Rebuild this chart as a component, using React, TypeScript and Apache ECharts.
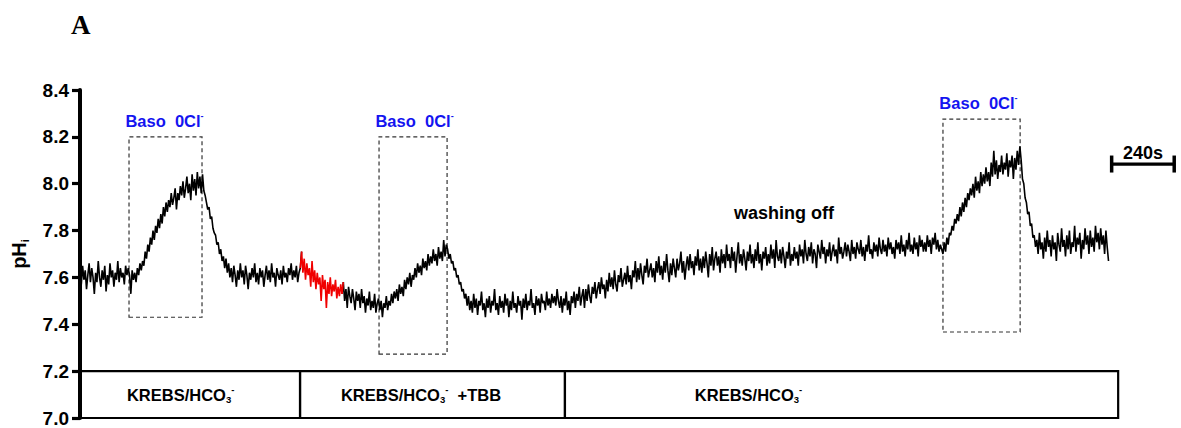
import React, { useEffect, useRef } from 'react';
import * as echarts from 'echarts';

const DT = 5;
const krebsBaseline = [
  7.62, 7.57, 7.65, 7.59, 7.63, 7.55, 7.61, 7.66, 7.58, 7.64,
  7.60, 7.53, 7.62, 7.58, 7.67, 7.60, 7.56, 7.63, 7.59, 7.65,
  7.54, 7.61, 7.57, 7.66, 7.60, 7.63, 7.56, 7.62, 7.59, 7.67,
  7.58, 7.64, 7.60, 7.62, 7.57, 7.65, 7.61, 7.64];
const baso1 = [
  7.61, 7.53, 7.63, 7.59, 7.62, 7.58, 7.64, 7.61, 7.66, 7.63,
  7.67, 7.65, 7.71, 7.68, 7.74, 7.71, 7.77, 7.74, 7.80, 7.76,
  7.82, 7.79, 7.85, 7.81, 7.87, 7.83, 7.90, 7.86, 7.92, 7.88,
  7.93, 7.90, 7.96, 7.91, 7.94, 7.98, 7.89, 7.96, 7.93, 7.99,
  7.95, 8.01, 7.94, 7.98, 8.03, 7.96, 8.00, 7.93, 8.04, 7.97,
  8.02, 7.95, 8.05, 7.98, 8.03, 7.96];
const recovery1 = [
  8.04, 7.97, 7.95, 7.92, 7.89, 7.90, 7.85, 7.86, 7.81, 7.79,
  7.78, 7.74, 7.75, 7.70, 7.72, 7.67, 7.69, 7.64, 7.68, 7.62,
  7.66, 7.60, 7.64, 7.58, 7.65, 7.61, 7.56, 7.63, 7.59, 7.66,
  7.60, 7.63, 7.57, 7.65, 7.61, 7.55, 7.62, 7.59, 7.64, 7.60,
  7.66, 7.58, 7.62, 7.57, 7.64, 7.60, 7.63, 7.56, 7.61, 7.65,
  7.59, 7.63, 7.58, 7.66, 7.60, 7.62, 7.56, 7.64, 7.61, 7.59,
  7.63, 7.57, 7.65, 7.60, 7.62, 7.58, 7.64, 7.61, 7.66, 7.59,
  7.63, 7.60, 7.65, 7.58, 7.62, 7.64];
const tbbRed = [
  7.71, 7.62, 7.68, 7.59, 7.66, 7.61, 7.64, 7.56, 7.67, 7.58,
  7.63, 7.55, 7.62, 7.57, 7.60, 7.50, 7.61, 7.55, 7.59, 7.47,
  7.58, 7.53, 7.60, 7.52, 7.57, 7.54, 7.59, 7.51, 7.56, 7.52,
  7.57, 7.53];
const tbbBaseline = [
  7.58, 7.50, 7.55, 7.47, 7.56, 7.52, 7.49, 7.55, 7.51, 7.46,
  7.54, 7.50, 7.53, 7.47, 7.55, 7.49, 7.52, 7.45, 7.51, 7.48,
  7.54, 7.46, 7.50, 7.47, 7.53, 7.45, 7.49, 7.51];
const baso2 = [
  7.46, 7.50, 7.43, 7.49, 7.47, 7.52, 7.46, 7.50, 7.48, 7.53,
  7.49, 7.54, 7.51, 7.55, 7.50, 7.57, 7.53, 7.56, 7.52, 7.59,
  7.55, 7.60, 7.57, 7.62, 7.56, 7.61, 7.59, 7.64, 7.60, 7.66,
  7.62, 7.65, 7.61, 7.68, 7.64, 7.67, 7.63, 7.70, 7.65, 7.69,
  7.66, 7.72, 7.67, 7.70, 7.65, 7.73, 7.68, 7.71, 7.67, 7.76,
  7.69, 7.74];
const recovery2 = [
  7.72, 7.68, 7.70, 7.66, 7.67, 7.63, 7.64, 7.60, 7.61, 7.57,
  7.58, 7.54, 7.55, 7.51, 7.53, 7.48, 7.52, 7.46, 7.50, 7.45,
  7.53, 7.47, 7.51, 7.44, 7.50, 7.48, 7.54, 7.46, 7.49, 7.43,
  7.51, 7.47, 7.52, 7.45, 7.50, 7.48, 7.55, 7.46, 7.49, 7.44,
  7.52, 7.47, 7.50, 7.45, 7.53, 7.48, 7.51, 7.43, 7.50, 7.46,
  7.54, 7.47, 7.49, 7.45, 7.52, 7.48, 7.50, 7.42, 7.51, 7.47,
  7.53, 7.46, 7.50, 7.48, 7.55, 7.47, 7.49, 7.44, 7.52, 7.48,
  7.51, 7.45, 7.53, 7.49, 7.50, 7.46, 7.54, 7.48, 7.51, 7.47,
  7.53, 7.49, 7.52, 7.48, 7.55, 7.50];
const washingOff = [
  7.47, 7.52, 7.45, 7.51, 7.48, 7.54, 7.46, 7.50, 7.44, 7.52,
  7.49, 7.54, 7.47, 7.53, 7.50, 7.56, 7.48, 7.52, 7.55, 7.47,
  7.55, 7.50, 7.57, 7.52, 7.49, 7.56, 7.53, 7.58, 7.51, 7.55,
  7.58, 7.53, 7.60, 7.55, 7.57, 7.51, 7.59, 7.54, 7.62, 7.56,
  7.60, 7.55, 7.63, 7.57, 7.54, 7.61, 7.58, 7.64, 7.56, 7.59,
  7.62, 7.57, 7.65, 7.58, 7.61, 7.55, 7.63, 7.60, 7.67, 7.58,
  7.64, 7.59, 7.66, 7.61, 7.57, 7.65, 7.62, 7.68, 7.60, 7.63,
  7.66, 7.60, 7.64, 7.58, 7.67, 7.62, 7.69, 7.61, 7.65, 7.59,
  7.67, 7.62, 7.70, 7.63, 7.58, 7.66, 7.61, 7.68, 7.64, 7.60,
  7.68, 7.63, 7.66, 7.71, 7.62, 7.67, 7.59, 7.65, 7.69, 7.63,
  7.70, 7.64, 7.67, 7.61, 7.69, 7.65, 7.72, 7.63, 7.68, 7.62,
  7.69, 7.64, 7.71, 7.66, 7.60, 7.70, 7.65, 7.73, 7.63, 7.68,
  7.71, 7.65, 7.69, 7.62, 7.72, 7.66, 7.70, 7.64, 7.74, 7.67,
  7.70, 7.64, 7.73, 7.67, 7.71, 7.62, 7.69, 7.75, 7.66, 7.70,
  7.65, 7.72, 7.68, 7.63, 7.71, 7.67, 7.74, 7.66, 7.70, 7.64,
  7.72, 7.67, 7.75, 7.66, 7.70, 7.63, 7.71, 7.68, 7.73, 7.65,
  7.70, 7.66, 7.74, 7.68, 7.72, 7.64, 7.76, 7.69, 7.67, 7.72,
  7.66, 7.73, 7.69, 7.64, 7.71, 7.68, 7.75, 7.65, 7.70, 7.67,
  7.73, 7.68, 7.71, 7.65, 7.74, 7.69, 7.72, 7.66, 7.76, 7.70,
  7.67, 7.73, 7.69, 7.75, 7.66, 7.72, 7.70, 7.64, 7.74, 7.71,
  7.68, 7.76, 7.70, 7.73, 7.66, 7.72, 7.69, 7.75, 7.67, 7.71,
  7.74, 7.69, 7.72, 7.66, 7.77, 7.70, 7.73, 7.68, 7.71, 7.75,
  7.69, 7.74, 7.71, 7.67, 7.76, 7.70, 7.73, 7.68, 7.75, 7.72,
  7.70, 7.76, 7.69, 7.73, 7.67, 7.74, 7.71, 7.78, 7.70, 7.72,
  7.68, 7.75, 7.71, 7.74, 7.69, 7.77, 7.72, 7.70, 7.76, 7.71,
  7.74, 7.69, 7.77, 7.72, 7.75, 7.70, 7.73, 7.68, 7.76, 7.72,
  7.75, 7.70, 7.78, 7.71, 7.74, 7.69, 7.76, 7.72, 7.79, 7.71,
  7.74, 7.70, 7.77, 7.72, 7.75, 7.69, 7.78, 7.73, 7.76, 7.71,
  7.75, 7.71, 7.78, 7.73, 7.76, 7.70, 7.77, 7.74, 7.79, 7.72,
  7.76, 7.71, 7.74, 7.72];
const baso3 = [
  7.70, 7.75, 7.71, 7.77, 7.74, 7.79, 7.78, 7.82, 7.80, 7.85,
  7.83, 7.87, 7.84, 7.90, 7.86, 7.92, 7.88, 7.94, 7.90, 7.96,
  7.93, 7.98, 7.95, 8.00, 7.94, 8.03, 7.97, 8.01, 7.96, 8.05,
  7.99, 8.04, 8.00, 8.07, 8.01, 8.05, 7.99, 8.09, 8.03, 8.14,
  8.04, 8.10, 8.02, 8.08, 8.05, 8.12, 8.04, 8.09, 8.06, 8.13,
  8.03, 8.10, 8.07, 8.12, 8.02, 8.11, 8.06, 8.14, 8.08, 8.16];
const recovery3 = [
  8.10, 8.02, 8.00, 7.94, 7.92, 7.87, 7.88, 7.82, 7.83, 7.77,
  7.78, 7.73, 7.76, 7.70, 7.79, 7.72, 7.75, 7.68, 7.77, 7.71,
  7.80, 7.73, 7.76, 7.69, 7.78, 7.72, 7.75, 7.67, 7.79, 7.74,
  7.71, 7.81, 7.73, 7.76, 7.69, 7.78, 7.72, 7.80, 7.70, 7.75,
  7.73, 7.82, 7.71, 7.77, 7.74, 7.79, 7.68, 7.76, 7.72, 7.81,
  7.74, 7.78, 7.70, 7.80, 7.73, 7.77, 7.71, 7.82, 7.75, 7.79,
  7.72, 7.81, 7.74, 7.78, 7.70, 7.80, 7.73, 7.67];

const segments = [krebsBaseline, baso1, recovery1, tbbRed, tbbBaseline, baso2, recovery2, washingOff, baso3, recovery3];
const RED_SEGMENT = 3;

// Baso 0Cl- application windows
const basoStart = [188, 1147, 3310];
const basoEnd = [468, 1408, 3606];
const basoLow = [7.43, 7.273, 7.367];
const basoHigh = [8.2, 8.2, 8.276];

// solution bars
const solutionNames = ['KREBS/HCO3-', 'KREBS/HCO3-  +TBB', 'KREBS/HCO3-'];
const solutionStart = [0, 844, 1860];
const solutionEnd = [844, 1860, 3982];

const yTicks = { min: 7.0, max: 8.4, interval: 0.2 };
const xRange = { min: 0, max: 4200 };
const scaleBar = { start: 3957, length: 240, ph: 8.084 };
const washLabel = { t: 2700, ph: 7.875, text: 'washing off' };

export default function App() {
  const ref = useRef<HTMLDivElement>(null);
  useEffect(() => {
    if (!ref.current) return;
    const chart = echarts.init(ref.current, undefined, { renderer: 'svg' });

    const black: any[] = [];
    const red: any[] = [];
    const all: [number, number][] = [];
    let idx = 0;
    let redFirst = -1, redLast = -1;
    segments.forEach((seg, si) => {
      seg.forEach((v) => {
        if (si === RED_SEGMENT) {
          if (redFirst < 0) redFirst = idx;
          redLast = idx;
        }
        all.push([idx * DT, v]);
        idx++;
      });
    });
    all.forEach((p, i) => {
      if (i > redFirst && i < redLast) black.push([p[0], '-']);
      else black.push(p);
      if (i >= redFirst - 1 && i <= redLast + 1) red.push(p);
    });

    const font = 'Arial, "Liberation Sans", Helvetica, sans-serif';
    const solRich = {
      m: { fontSize: 16.5, fontWeight: 'bold', fontFamily: font, color: '#000', lineHeight: 20, verticalAlign: 'middle' },
      sub: { fontSize: 9.5, fontWeight: 'bold', fontFamily: font, color: '#000', lineHeight: 9, verticalAlign: 'bottom' },
      sup: { fontSize: 9.5, fontWeight: 'bold', fontFamily: font, color: '#000', lineHeight: 9, verticalAlign: 'top' },
    };
    const solFormat = (name: string) => {
      const parts = name.split('HCO3-');
      return `{m|${parts[0]}HCO}{sub|3}{sup|-}{m|${parts[1] ? parts[1] : ''}}`;
    };
    const solOffsets = [48, 42, 131];

    const basoRich = {
      m: { fontSize: 16.5, fontWeight: 'bold', fontFamily: font, color: '#1414f0', lineHeight: 19, verticalAlign: 'middle' },
      sup: { fontSize: 9, fontWeight: 'bold', fontFamily: font, color: '#1414f0', lineHeight: 9, verticalAlign: 'top' },
    };

    chart.setOption({
      animation: false,
      grid: { left: 80, right: 6, top: 90, bottom: 10, containLabel: false },
      graphic: [
        { type: 'text', left: 71, top: 11, style: { text: 'A', font: 'bold 27px "Liberation Serif", "Times New Roman", serif', fill: '#000' } },
      ],
      xAxis: { type: 'value', min: xRange.min, max: xRange.max, show: false },
      yAxis: {
        type: 'value',
        min: yTicks.min, max: yTicks.max, interval: yTicks.interval,
        axisLine: { show: true, lineStyle: { color: '#000', width: 4 } },
        axisTick: { show: true, length: 8, lineStyle: { color: '#000', width: 3.2 } },
        splitLine: { show: false },
        axisLabel: { formatter: (v: number) => v.toFixed(1), fontSize: 19, fontWeight: 'bold', fontFamily: font, color: '#000', margin: 11 },
        name: '{m|pH}{s|i}',
        nameLocation: 'middle',
        nameRotate: 90,
        nameGap: 50,
        nameTextStyle: {
          rich: {
            m: { fontSize: 20, fontWeight: 'bold', fontFamily: font, color: '#000', lineHeight: 22, verticalAlign: 'middle' },
            s: { fontSize: 11, fontWeight: 'bold', fontFamily: font, color: '#000', lineHeight: 11, verticalAlign: 'bottom' },
          },
        },
      },
      series: [
        {
          type: 'line',
          data: black,
          showSymbol: false,
          symbol: 'none',
          connectNulls: false,
          lineStyle: { color: '#000', width: 1.6 },
          z: 3,
          markArea: {
            silent: true,
            data: [
              ...basoStart.map((s, i) => [
                {
                  coord: [s, basoLow[i]],
                  itemStyle: { color: 'rgba(0,0,0,0)', borderColor: '#333', borderWidth: 1.2, borderType: [4, 3] },
                  label: { show: true, position: [-3, -25], align: 'left', formatter: '{m|Baso  0Cl}{sup|-}', rich: basoRich },
                },
                { coord: [basoEnd[i], basoHigh[i]] },
              ]),
              ...solutionNames.map((n, i) => [
                {
                  coord: [solutionStart[i], yTicks.min],
                  itemStyle: { color: 'rgba(0,0,0,0)', borderColor: '#000', borderWidth: 2.2 },
                  label: { show: true, position: [solOffsets[i], '50%'], align: 'left', verticalAlign: 'middle', formatter: solFormat(n), rich: solRich },
                },
                { coord: [solutionEnd[i], yTicks.min + 0.2] },
              ]),
            ],
          },
        },
        {
          type: 'line',
          data: red,
          showSymbol: false,
          symbol: 'none',
          lineStyle: { color: '#f00000', width: 1.6 },
          z: 4,
        },
        {
          type: 'custom',
          silent: true,
          data: [[scaleBar.start, scaleBar.start + scaleBar.length, scaleBar.ph]],
          renderItem: (params: any, api: any) => {
            const p0 = api.coord([api.value(0), api.value(2)]);
            const p1 = api.coord([api.value(1), api.value(2)]);
            return {
              type: 'group',
              children: [
                { type: 'line', shape: { x1: p0[0], y1: p0[1], x2: p1[0], y2: p1[1] }, style: { stroke: '#000', lineWidth: 3.3 } },
                { type: 'line', shape: { x1: p0[0], y1: p0[1] - 8.5, x2: p0[0], y2: p0[1] + 8.5 }, style: { stroke: '#000', lineWidth: 3.5 } },
                { type: 'line', shape: { x1: p1[0], y1: p1[1] - 8.5, x2: p1[0], y2: p1[1] + 8.5 }, style: { stroke: '#000', lineWidth: 3.5 } },
                {
                  type: 'text', x: (p0[0] + p1[0]) / 2, y: p0[1] - 2,
                  style: { text: `${scaleBar.length}s`, textAlign: 'center', textVerticalAlign: 'bottom', fontSize: 18, fontWeight: 'bold', fontFamily: font, fill: '#000' },
                },
              ],
            };
          },
          z: 5,
        },
        {
          type: 'custom',
          silent: true,
          data: [[washLabel.t, washLabel.ph]],
          renderItem: (params: any, api: any) => {
            const p = api.coord([api.value(0), api.value(1)]);
            return {
              type: 'text', x: p[0], y: p[1],
              style: { text: washLabel.text, textAlign: 'center', textVerticalAlign: 'middle', fontSize: 18, fontWeight: 'bold', fontFamily: font, fill: '#000' },
            };
          },
          z: 5,
        },
      ],
    });
    return () => chart.dispose();
  }, []);
  return <div ref={ref} style={{ position: 'fixed', left: 0, top: 0, width: 1181, height: 428, background: '#fff' }} />;
}
